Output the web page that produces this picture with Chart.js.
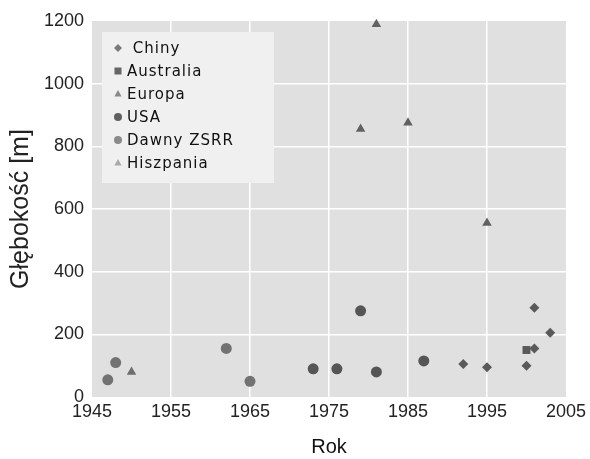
<!DOCTYPE html>
<html>
<head>
<meta charset="utf-8">
<script src="https://cdn.jsdelivr.net/npm/chart.js@4.4.0/dist/chart.umd.min.js"></script>
<style>
  html, body { margin: 0; padding: 0; background: #fff; }
  #wrap { width: 590px; height: 459px; }
</style>
</head>
<body>
<div id="wrap"><canvas id="chartJSContainer" width="590" height="459"></canvas></div>
<script>
// data (year, depth in m)
var chinyYears = [1992, 1995, 2000, 2001, 2001, 2003];
var chinyDepth = [105, 95, 100, 155, 285, 205];
var australiaYears = [2000];
var australiaDepth = [150];
var europaYears = [1979, 1981, 1985, 1995];
var europaDepth = [855, 1190, 875, 555];
var usaYears = [1973, 1976, 1979, 1981, 1987];
var usaDepth = [90, 90, 275, 80, 115];
var zsrrYears = [1947, 1948, 1962, 1965];
var zsrrDepth = [55, 110, 155, 50];
var hiszpaniaYears = [1950];
var hiszpaniaDepth = [80];

var xTicks = [1945, 1955, 1965, 1975, 1985, 1995, 2005];
var yTicks = [0, 200, 400, 600, 800, 1000, 1200];

function toPoints(xs, ys) {
  return xs.map(function (x, i) {
    return { x: x, y: ys[i] };
  });
}

function series(label, xs, ys, style, color, radius) {
  return {
    label: label,
    data: toPoints(xs, ys),
    pointStyle: style,
    pointRadius: radius,
    pointHoverRadius: radius,
    backgroundColor: color,
    borderColor: color,
    borderWidth: 0,
    clip: false,
  };
}

var datasets = [
  series(" Chiny", chinyYears, chinyDepth, "rectRot", "#595959", 5),
  series("Australia", australiaYears, australiaDepth, "rect", "#595959", 5.6),
  series("Europa", europaYears, europaDepth, "triangle", "#616161", 5.5),
  series("USA", usaYears, usaDepth, "circle", "#555555", 5.5),
  series("Dawny ZSRR", zsrrYears, zsrrDepth, "circle", "#727272", 5.5),
  series("Hiszpania", hiszpaniaYears, hiszpaniaDepth, "triangle", "#6e6e6e", 5.5),
];

// legend colours in the picture are a bit lighter than the marks
var legendColors = ["#7a7a7a", "#666666", "#8a8a8a", "#606060", "#8a8a8a", "#aaaaaa"];

function drawMarker(ctx, style, x, y, r) {
  ctx.beginPath();
  if (style === "circle") {
    ctx.arc(x, y, r, 0, Math.PI * 2);
  } else if (style === "rect") {
    ctx.rect(x - r, y - r, 2 * r, 2 * r);
  } else if (style === "rectRot") {
    ctx.moveTo(x, y - r);
    ctx.lineTo(x + r, y);
    ctx.lineTo(x, y + r);
    ctx.lineTo(x - r, y);
  } else if (style === "triangle") {
    ctx.moveTo(x, y - r);
    ctx.lineTo(x + r * 0.9, y + r * 0.6);
    ctx.lineTo(x - r * 0.9, y + r * 0.6);
  }
  ctx.closePath();
  ctx.fill();
}

var plotBackground = {
  id: "plotBackground",
  beforeDraw: function (chart) {
    var a = chart.chartArea;
    var ctx = chart.ctx;
    ctx.save();
    ctx.fillStyle = "#e0e0e0";
    ctx.fillRect(a.left, a.top, a.right - a.left, a.bottom - a.top);
    ctx.restore();
  },
};

var insideLegend = {
  id: "insideLegend",
  afterDatasetsDraw: function (chart) {
    var ctx = chart.ctx;
    ctx.save();
    ctx.fillStyle = "#f0f0f0";
    ctx.fillRect(102, 32, 172, 151);
    ctx.font = "15px 'DejaVu Sans'";
    ctx.letterSpacing = "1px";
    ctx.textBaseline = "middle";
    ctx.textAlign = "left";
    chart.data.datasets.forEach(function (ds, i) {
      var y = 48 + i * 23;
      ctx.fillStyle = legendColors[i];
      var r = ds.pointStyle === "rect" ? 3.5 : 4;
      drawMarker(ctx, ds.pointStyle, 118, y, r);
      ctx.fillStyle = "#111";
      ctx.fillText(ds.label, 127, y + 1);
    });
    ctx.restore();
  },
};

function edgeColor(ctx) {
  var n = ctx.scale.ticks.length;
  return ctx.index === 0 || ctx.index === n - 1 ? "rgba(0,0,0,0)" : "#ffffff";
}

var options = {
  type: "scatter",
  data: { datasets: datasets },
  options: {
    responsive: false,
    animation: false,
    devicePixelRatio: 1,
    layout: { padding: { top: 21, right: 19, left: 0, bottom: 0 } },
    plugins: {
      legend: { display: false },
      tooltip: { enabled: false },
    },
    scales: {
      x: {
        type: "linear",
        min: 1945,
        max: 2005,
        afterBuildTicks: function (scale) {
          scale.ticks = xTicks.map(function (v) { return { value: v }; });
        },
        afterFit: function (scale) { scale.height = 62; },
        ticks: {
          color: "#222",
          font: { family: "'Liberation Sans'", size: 18 },
          padding: 4,
          maxRotation: 0,
          callback: function (v) { return String(v); },
        },
        grid: { color: edgeColor, lineWidth: 1.5, drawTicks: false },
        border: { display: false },
        title: {
          display: true,
          text: "Rok",
          color: "#111",
          font: { family: "'Liberation Sans'", size: 20 },
          padding: { top: 6, bottom: 0 },
        },
      },
      y: {
        min: 0,
        max: 1200,
        afterBuildTicks: function (scale) {
          scale.ticks = yTicks.map(function (v) { return { value: v }; });
        },
        afterFit: function (scale) { scale.width = 92; },
        ticks: {
          color: "#222",
          font: { family: "'Liberation Sans'", size: 18 },
          padding: 8,
          callback: function (v) { return String(v); },
        },
        grid: { color: edgeColor, lineWidth: 1.5, drawTicks: false },
        border: { display: false },
        title: {
          display: true,
          text: "Głębokość [m]",
          color: "#222",
          font: { family: "'Liberation Sans'", size: 25 },
          padding: { top: 6, bottom: 0 },
        },
      },
    },
  },
  plugins: [plotBackground, insideLegend],
};

var ctx = document.getElementById("chartJSContainer").getContext("2d");
window.test = new Chart(ctx, options);
</script>
</body>
</html>
